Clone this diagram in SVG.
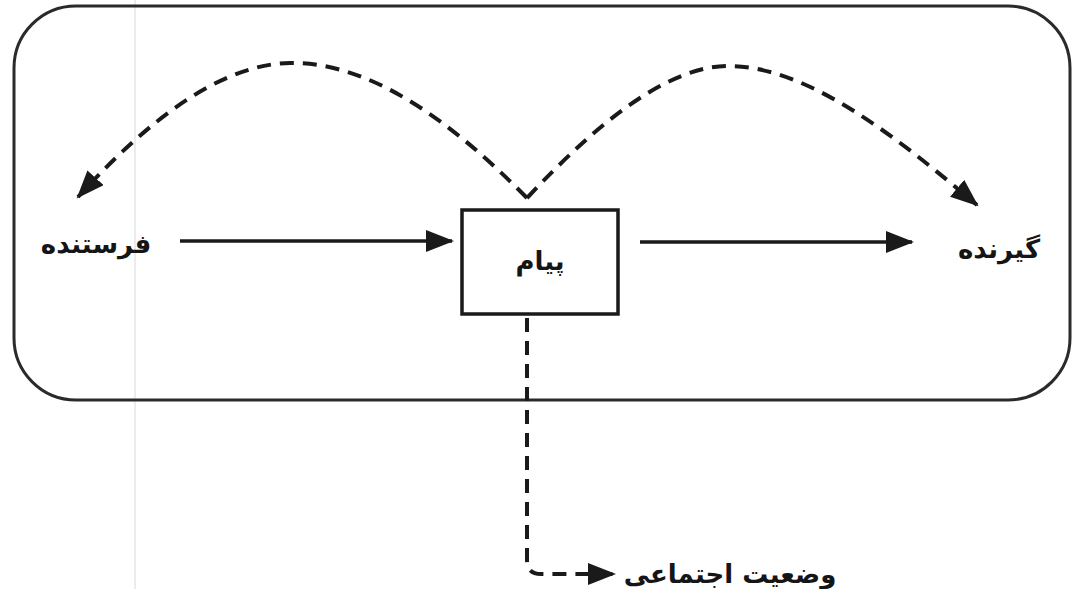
<svg xmlns="http://www.w3.org/2000/svg" width="1074" height="589" viewBox="0 0 1074 589">
<style>
.lbl{font-family:"DejaVu Sans","Noto Sans",sans-serif;font-weight:bold;font-size:26px;fill:#151515;}
.solid{fill:none;stroke:#1a1a1a;stroke-width:3.5;}
.dash{fill:none;stroke:#1a1a1a;stroke-width:4;stroke-dasharray:14 9;}
</style>
<defs>
<marker id="ah" markerUnits="userSpaceOnUse" markerWidth="30" markerHeight="24" refX="26" refY="11" orient="auto">
<path d="M0,0 L28,11 L0,22 Z" fill="#1a1a1a"/>
</marker>
</defs>
<rect width="1074" height="589" fill="#ffffff"/>
<line x1="135" y1="0" x2="135" y2="589" stroke="#d8d8d8" stroke-width="1"/>
<g id="frame">
<rect x="14" y="6" width="1056" height="394" rx="62" ry="62" fill="none" stroke="#2a2a2a" stroke-width="3"/>
</g>
<g id="connectors">
<line class="solid" x1="180" y1="241" x2="452" y2="241" marker-end="url(#ah)"/>
<line class="solid" x1="640" y1="242" x2="912" y2="242" marker-end="url(#ah)"/>
<path class="dash" d="M527,198 C450,120 370,62 290,63 C210,64 130,140 78,197" marker-end="url(#ah)"/>
<path class="dash" d="M527,198 C600,120 670,65 730,66 C810,67 900,140 977,205" marker-end="url(#ah)"/>
<path class="dash" d="M527,318 L527,560 Q527,574 541,574 L614,574" marker-end="url(#ah)"/>
</g>
<g id="sender">
<text class="lbl" x="96" y="253" text-anchor="middle" direction="rtl">فرستنده</text>
</g>
<g id="message">
<rect x="462" y="210" width="156" height="104" fill="#ffffff" stroke="#1a1a1a" stroke-width="3.5"/>
<text class="lbl" x="540" y="270" text-anchor="middle" direction="rtl">پیام</text>
</g>
<g id="receiver">
<text class="lbl" x="999" y="258" text-anchor="middle" direction="rtl">گیرنده</text>
</g>
<g id="social">
<text class="lbl" x="730" y="583" text-anchor="middle" direction="rtl">وضعیت اجتماعی</text>
</g>
</svg>
